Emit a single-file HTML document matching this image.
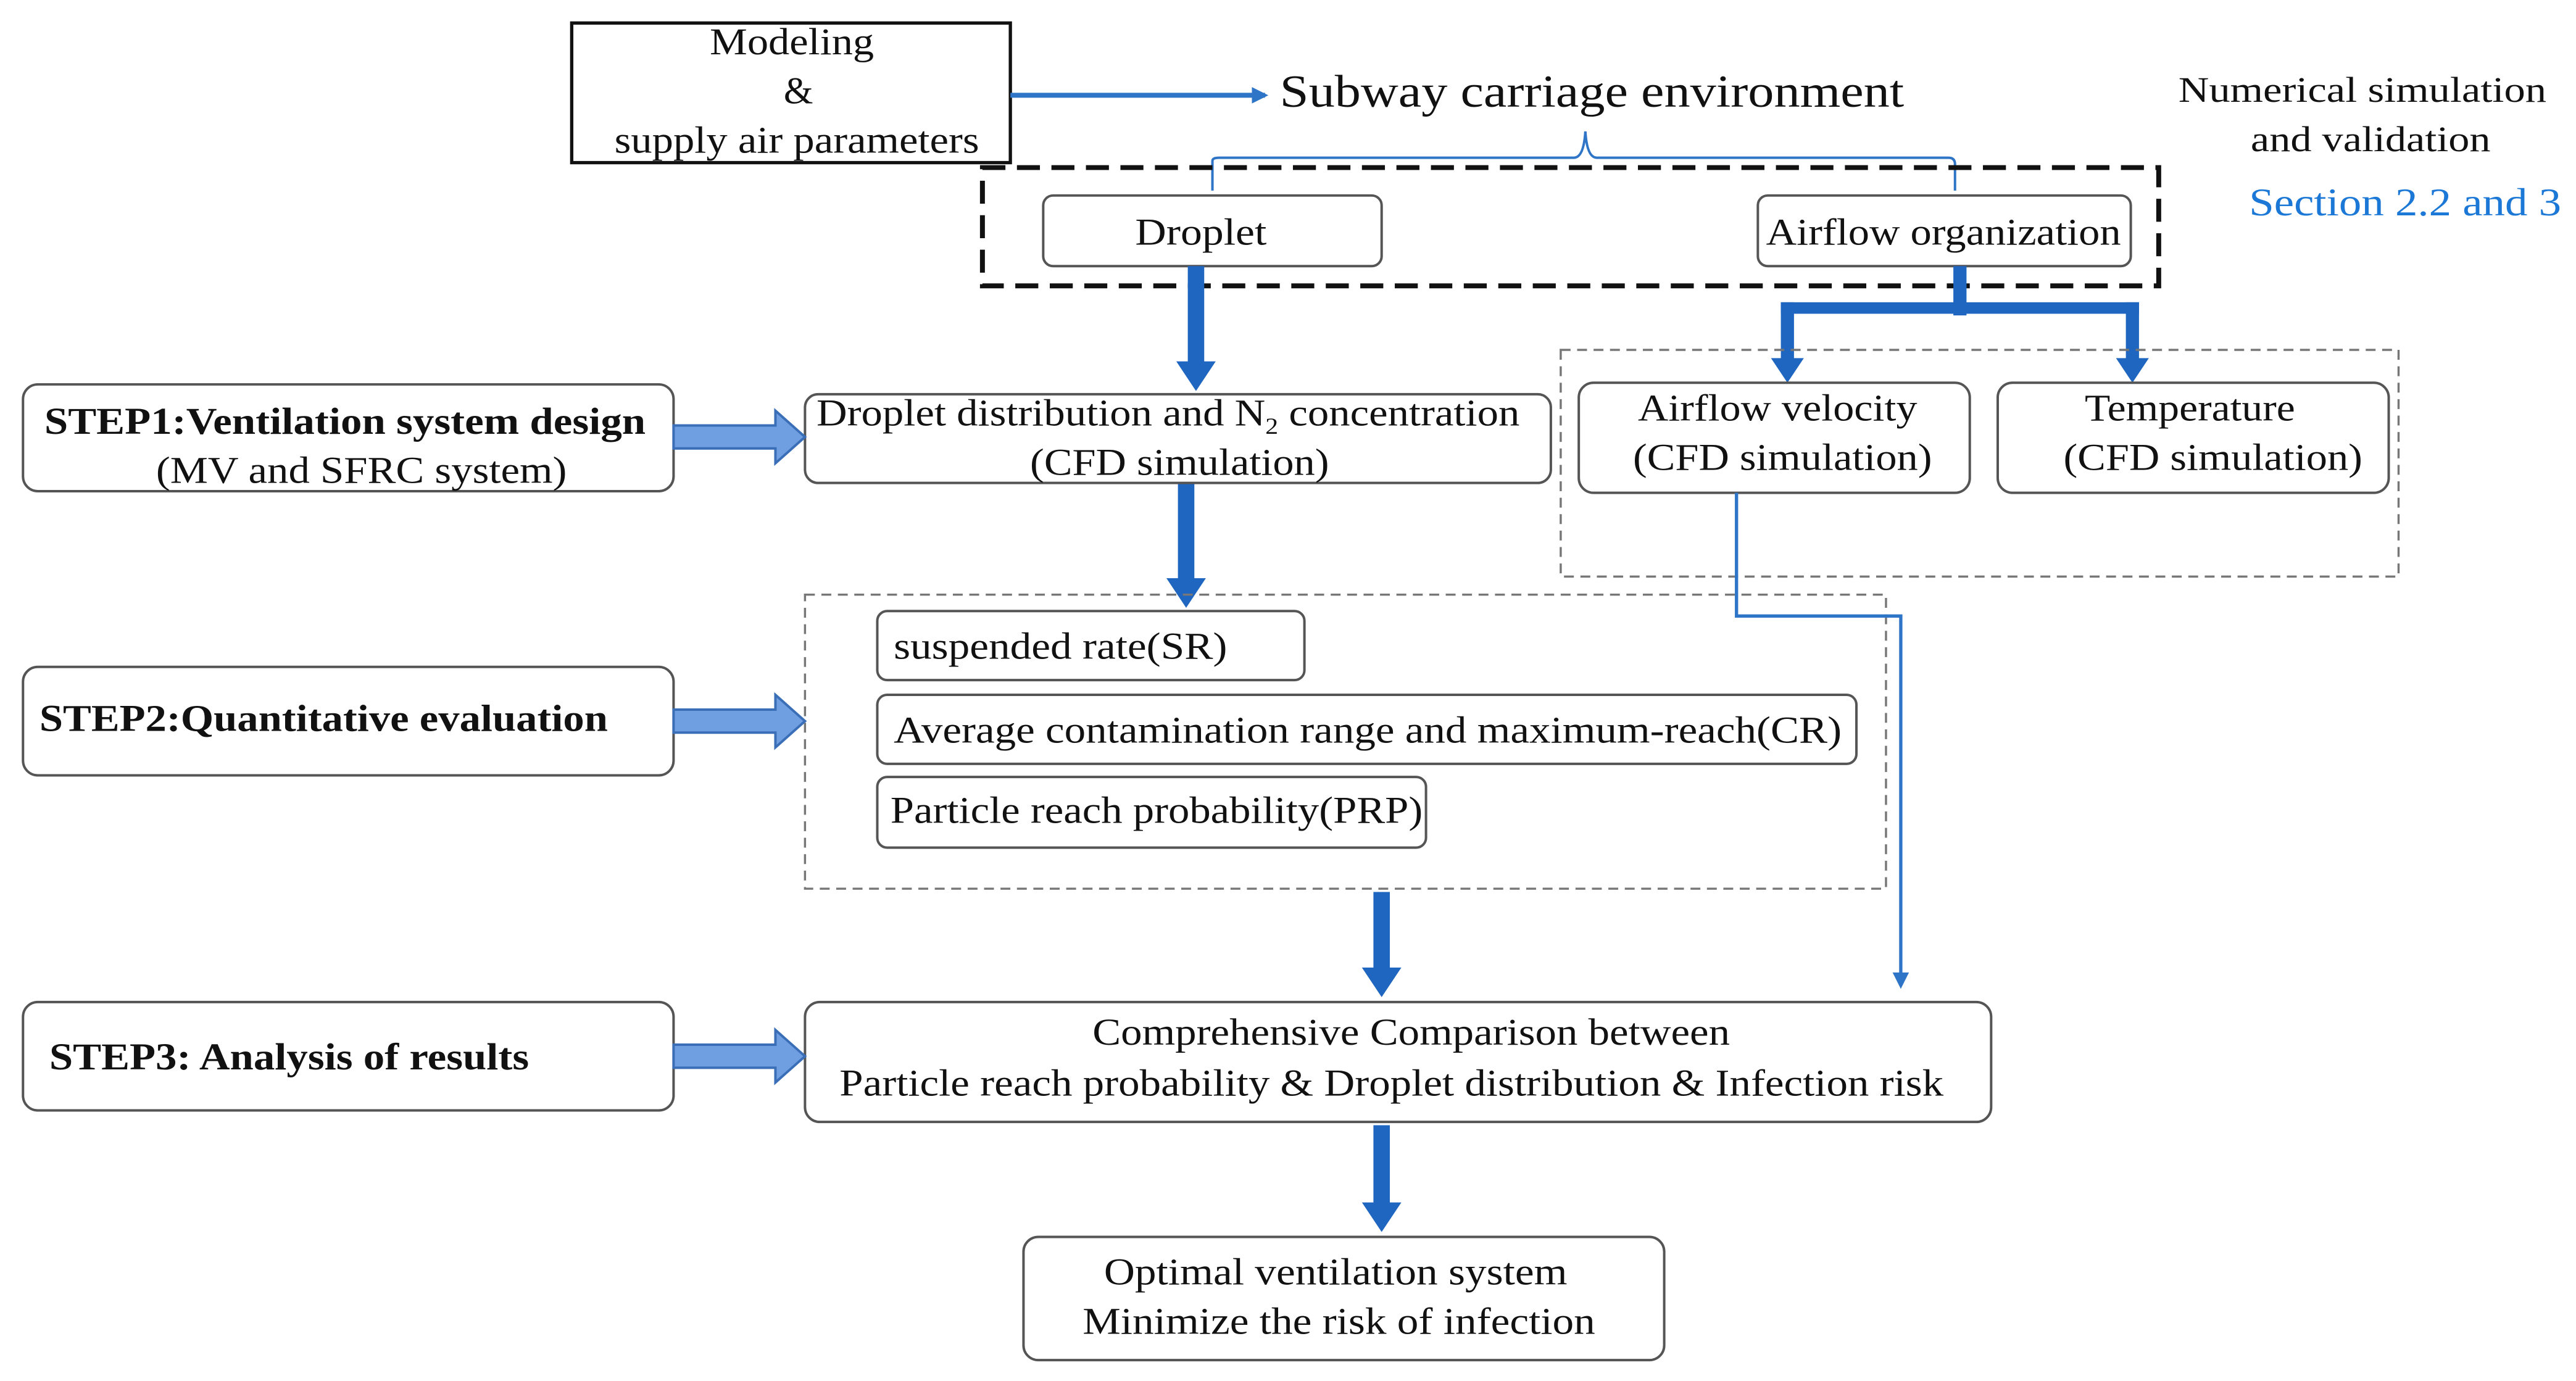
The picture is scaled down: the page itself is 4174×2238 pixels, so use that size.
<!DOCTYPE html>
<html><head><meta charset="utf-8"><style>
html,body{margin:0;padding:0;background:#fff;}
svg{display:block;}
text{font-family:"Liberation Serif","Times New Roman",serif;fill:#111;}
</style></head><body>
<svg width="4174" height="2238" viewBox="0 0 1568 840.7" xmlns="http://www.w3.org/2000/svg">
<defs>
<marker id="ah" markerWidth="10" markerHeight="10" refX="8" refY="5" orient="auto" markerUnits="userSpaceOnUse"><path d="M0,0 L10,5 L0,10 Z" fill="#2e75c8"/></marker>
<marker id="ahs" markerWidth="10" markerHeight="10" refX="8" refY="5" orient="auto" markerUnits="userSpaceOnUse"><path d="M0,0 L10,5 L0,10 Z" fill="#2e75c8"/></marker>
</defs>
<g font-size="23">
<rect x="348" y="14" width="267" height="85" fill="#fff" stroke="#111" stroke-width="2"/>
<text x="482" y="33" text-anchor="middle" textLength="100" lengthAdjust="spacingAndGlyphs">Modeling</text>
<text x="486" y="63" text-anchor="middle">&amp;</text>
<text x="485" y="93" text-anchor="middle" textLength="222" lengthAdjust="spacingAndGlyphs">supply air parameters</text>
<line x1="615" y1="58" x2="770" y2="58" stroke="#2e75c8" stroke-width="3" marker-end="url(#ahs)"/>
<text x="779" y="65" font-size="28" textLength="380" lengthAdjust="spacingAndGlyphs">Subway carriage environment</text>
<path d="M738,116 V98 Q738,96 742,96 H958 Q964,96 965,80 Q966,96 972,96 H1186 Q1190,96 1190,100 V116" fill="none" stroke="#2e75c8" stroke-width="1.5"/>
<text x="1438" y="62" text-anchor="middle" font-size="22" textLength="224" lengthAdjust="spacingAndGlyphs">Numerical simulation</text>
<text x="1443" y="92" text-anchor="middle" font-size="22" textLength="146" lengthAdjust="spacingAndGlyphs">and validation</text>
<text x="1464" y="131" text-anchor="middle" font-size="24" style="fill:#1b78d6" textLength="190" lengthAdjust="spacingAndGlyphs">Section 2.2 and 3</text>
<rect x="598" y="102" width="716" height="72" fill="none" stroke="#111" stroke-width="3" stroke-dasharray="14,7"/>
<rect x="635" y="119" width="206" height="43" rx="6" fill="#fff" stroke="#555" stroke-width="1.5"/>
<text x="731" y="149" text-anchor="middle" textLength="80" lengthAdjust="spacingAndGlyphs">Droplet</text>
<rect x="1070" y="119" width="227" height="43" rx="6" fill="#fff" stroke="#555" stroke-width="1.5"/>
<text x="1183" y="149" text-anchor="middle" textLength="216" lengthAdjust="spacingAndGlyphs">Airflow organization</text>
<g fill="#1f66c1">
<rect x="723" y="162" width="10" height="60"/><path d="M716,220 L740,220 L728,238 Z"/>
<rect x="717" y="294" width="10" height="60"/><path d="M710,352 L734,352 L722,370 Z"/>
<rect x="836" y="543" width="10" height="48"/><path d="M829,589 L853,589 L841,607 Z"/>
<rect x="836" y="685" width="10" height="49"/><path d="M829,732 L853,732 L841,750 Z"/>
<rect x="1189" y="162" width="8" height="30"/>
<rect x="1084" y="184" width="218" height="7"/>
<rect x="1084" y="184" width="8" height="36"/><path d="M1078,218 L1098,218 L1088,233 Z"/>
<rect x="1294" y="184" width="8" height="36"/><path d="M1288,218 L1308,218 L1298,233 Z"/>
</g>
<rect x="950" y="213" width="510" height="138" fill="none" stroke="#777" stroke-width="1.3" stroke-dasharray="6,4"/>
<rect x="490" y="362" width="658" height="179" fill="none" stroke="#777" stroke-width="1.3" stroke-dasharray="6,4"/>
<g fill="#fff" stroke="#555" stroke-width="1.5">
<rect x="14" y="234" width="396" height="65" rx="9"/>
<rect x="14" y="406" width="396" height="66" rx="9"/>
<rect x="14" y="610" width="396" height="66" rx="9"/>
<rect x="490" y="240" width="454" height="54" rx="8"/>
<rect x="961" y="233" width="238" height="67" rx="9"/>
<rect x="1216" y="233" width="238" height="67" rx="9"/>
<rect x="534" y="372" width="260" height="42" rx="6"/>
<rect x="534" y="423" width="596" height="42" rx="6"/>
<rect x="534" y="473" width="334" height="43" rx="6"/>
<rect x="490" y="610" width="722" height="73" rx="9"/>
<rect x="623" y="753" width="390" height="75" rx="9"/>
</g>
<g fill="#6f9fe0" stroke="#3a6fb8" stroke-width="1.5">
<path d="M410,259 H472 V250 L490,266 L472,282 V273 H410 Z"/>
<path d="M410,432 H472 V423 L490,439 L472,455 V446 H410 Z"/>
<path d="M410,636 H472 V627 L490,643 L472,659 V650 H410 Z"/>
</g>
<path d="M1057,300 V375 H1157 V600" fill="none" stroke="#2e75c8" stroke-width="2" marker-end="url(#ah)"/>
<text x="210" y="264" text-anchor="middle" font-weight="bold" textLength="366" lengthAdjust="spacingAndGlyphs">STEP1:Ventilation system design</text>
<text x="220" y="294" text-anchor="middle" textLength="250" lengthAdjust="spacingAndGlyphs">(MV and SFRC system)</text>
<text x="197" y="445" text-anchor="middle" font-weight="bold" textLength="346" lengthAdjust="spacingAndGlyphs">STEP2:Quantitative evaluation</text>
<text x="176" y="651" text-anchor="middle" font-weight="bold" textLength="292" lengthAdjust="spacingAndGlyphs">STEP3: Analysis of results</text>
<text x="497" y="259" textLength="428" lengthAdjust="spacingAndGlyphs">Droplet distribution and N<tspan font-size="14" dy="5">2</tspan><tspan dy="-5"> concentration</tspan></text>
<text x="718" y="289" text-anchor="middle" textLength="182" lengthAdjust="spacingAndGlyphs">(CFD simulation)</text>
<text x="1082" y="256" text-anchor="middle" textLength="170" lengthAdjust="spacingAndGlyphs">Airflow velocity</text>
<text x="1085" y="286" text-anchor="middle" textLength="182" lengthAdjust="spacingAndGlyphs">(CFD simulation)</text>
<text x="1333" y="256" text-anchor="middle" textLength="128" lengthAdjust="spacingAndGlyphs">Temperature</text>
<text x="1347" y="286" text-anchor="middle" textLength="182" lengthAdjust="spacingAndGlyphs">(CFD simulation)</text>
<text x="544" y="401" textLength="203" lengthAdjust="spacingAndGlyphs">suspended rate(SR)</text>
<text x="544" y="452" textLength="577" lengthAdjust="spacingAndGlyphs">Average contamination range and maximum-reach(CR)</text>
<text x="542" y="501" textLength="324" lengthAdjust="spacingAndGlyphs">Particle reach probability(PRP)</text>
<text x="859" y="636" text-anchor="middle" textLength="388" lengthAdjust="spacingAndGlyphs">Comprehensive Comparison between</text>
<text x="847" y="667" text-anchor="middle" textLength="672" lengthAdjust="spacingAndGlyphs">Particle reach probability &amp; Droplet distribution &amp; Infection risk</text>
<text x="813" y="782" text-anchor="middle" textLength="282" lengthAdjust="spacingAndGlyphs">Optimal ventilation system</text>
<text x="815" y="812" text-anchor="middle" textLength="312" lengthAdjust="spacingAndGlyphs">Minimize the risk of infection</text>
</g>
</svg>
</body></html>
